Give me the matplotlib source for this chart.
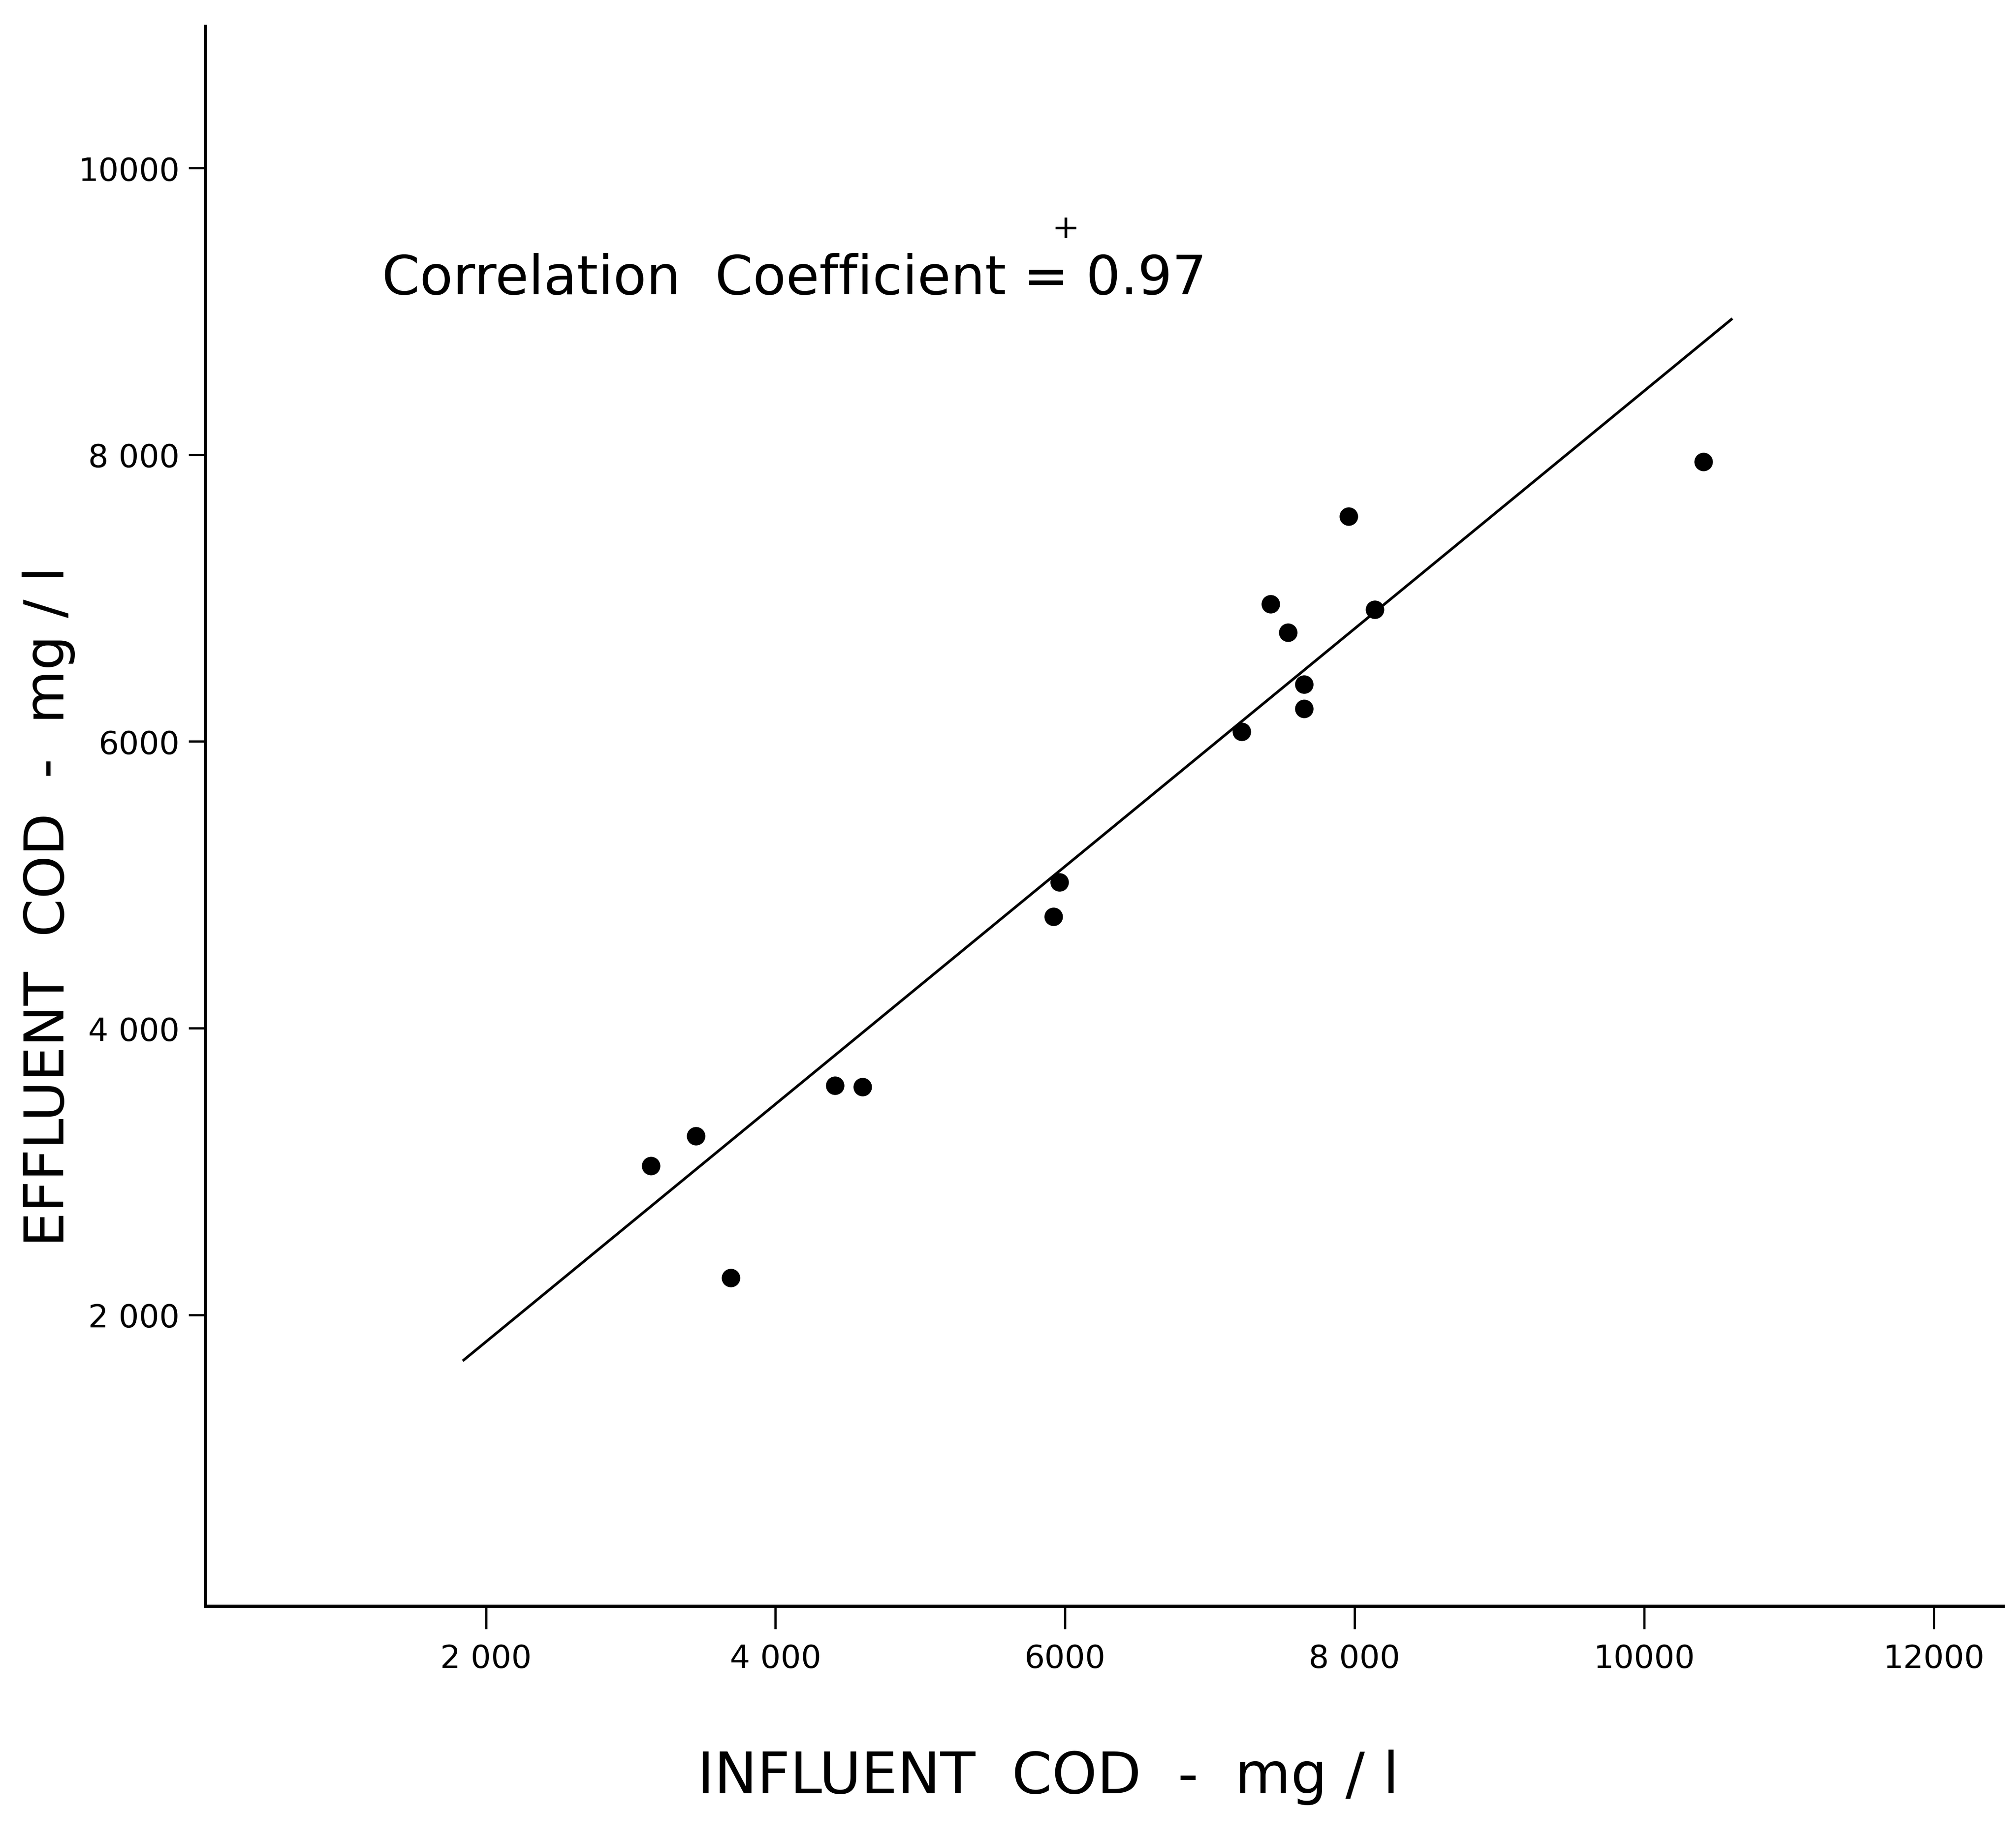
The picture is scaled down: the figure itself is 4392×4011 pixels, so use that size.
import matplotlib
matplotlib.use("Agg")
import matplotlib.pyplot as plt

# ---- data ----
influent_cod = [3140, 3450, 3690, 4410, 4600, 5920, 5960, 7220, 7420, 7540, 7650, 7650, 7960, 8140, 10410]
effluent_cod = [3040, 3250, 2260, 3600, 3590, 4780, 5020, 6070, 6960, 6760, 6400, 6230, 7570, 6920, 7950]
fit_x = [1840, 10610]
fit_y = [1680, 8950]

x_ticks = [2000, 4000, 6000, 8000, 10000, 12000]
x_tick_labels = ["2 000", "4 000", "6000", "8 000", "10000", "12000"]
y_ticks = [2000, 4000, 6000, 8000, 10000]
y_tick_labels = ["2 000", "4 000", "6000", "8 000", "10000"]

x_label = "INFLUENT  COD  -  mg / l"
y_label = "EFFLUENT  COD  -  mg / l"
corr_text = "Correlation  Coefficient = 0.97"

plt.rcParams['font.family'] = ['DejaVu Sans']

fig = plt.figure(figsize=(43.92, 40.12), dpi=100)
ax = fig.add_axes([0.1017, 0.1276, 0.9936 - 0.1017, 0.9856 - 0.1276])

ax.plot(fit_x, fit_y, color='black', linewidth=4.2, solid_capstyle='butt')
ax.plot(influent_cod, effluent_cod, linestyle='none', marker='o',
        markersize=28, color='black')

ax.set_xlim(60, 12480)
ax.set_ylim(-30, 10990)

for side in ['top', 'right']:
    ax.spines[side].set_visible(False)
for side in ['left', 'bottom']:
    ax.spines[side].set_linewidth(5)

ax.set_xticks(x_ticks)
ax.set_xticklabels(x_tick_labels)
ax.set_yticks(y_ticks)
ax.set_yticklabels(y_tick_labels)
ax.tick_params(axis='x', direction='out', length=36, width=3.5, pad=22, labelsize=50)
ax.tick_params(axis='y', direction='out', length=26, width=3.5, pad=14, labelsize=50)

fig.text(0.1894, 0.8402, corr_text, fontsize=85, ha='left', va='baseline')
fig.text(0.5287, 0.8756, "+", fontsize=52, ha='center', va='center')

fig.text(0.5198, 0.0262, x_label, fontsize=90, ha='center', va='baseline')
fig.text(0.0242, 0.5077, y_label, fontsize=86, ha='center', va='center', rotation=90)

fig.savefig("out.png", dpi=100, facecolor='white')
